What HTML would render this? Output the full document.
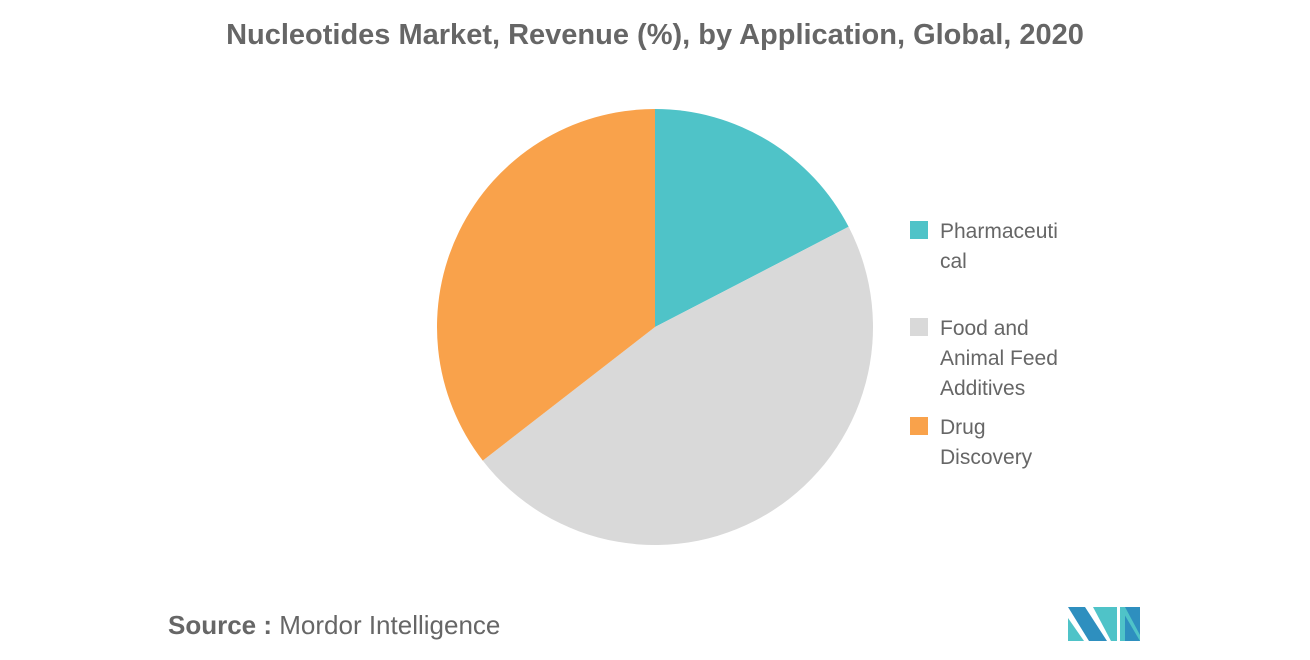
<!DOCTYPE html>
<html><head><meta charset="utf-8"><style>
body{margin:0;background:#fff;width:1310px;height:655px;overflow:hidden;font-family:"Liberation Sans",sans-serif;}
</style></head><body>
<svg width="1310" height="655">
<text x="655" y="44" text-anchor="middle" font-size="29" font-weight="bold" fill="#666">Nucleotides Market, Revenue (%), by Application, Global, 2020</text>
<g id="pie"></g>
<g font-size="21" fill="#666">
<g><rect x="910" y="221" width="18" height="18" fill="#4FC3C8"/><text x="940" y="238">Pharmaceuti</text><text x="940" y="268">cal</text></g>
<g><rect x="910" y="318" width="18" height="18" fill="#D9D9D9"/><text x="940" y="335">Food and</text><text x="940" y="365">Animal Feed</text><text x="940" y="395">Additives</text></g>
<g><rect x="910" y="417" width="18" height="18" fill="#F9A24B"/><text x="940" y="434">Drug</text><text x="940" y="464">Discovery</text></g>
</g>
<text x="168" y="634" font-size="26" fill="#666"><tspan font-weight="bold">Source :</tspan> Mordor Intelligence</text>
<g>
<polygon points="1068,618 1068,641 1084,641" fill="#4FC3C8"/>
<polygon points="1068,607 1085,607 1107,641 1089,641" fill="#2E8FBF"/>
<polygon points="1093,607 1117,607 1117,641 1111,641" fill="#4FC3C8"/>
<rect x="1120" y="607" width="20" height="34" fill="#4FC3C8"/>
<polygon points="1125,607 1140,607 1140,641 1125,641" fill="#2E8FBF"/>
<polygon points="1120,607 1125,607 1140,635 1140,641" fill="#4FC3C8"/>
</g>
</svg>
<script>
const categories=["Pharmaceutical","Food and Animal Feed Additives","Drug Discovery"];
const values=[17.4,47.1,35.5];
const colors=["#4FC3C8","#D9D9D9","#F9A24B"];
const cx=655,cy=327,r=218;
const g=document.getElementById('pie');
const total=values.reduce((a,b)=>a+b,0);
let a0=0;
values.forEach((v,i)=>{
  const a1=a0+v/total*2*Math.PI;
  const x0=cx+r*Math.sin(a0),y0=cy-r*Math.cos(a0),x1=cx+r*Math.sin(a1),y1=cy-r*Math.cos(a1);
  const p=document.createElementNS('http://www.w3.org/2000/svg','path');
  p.setAttribute('d',`M${cx},${cy}L${x0},${y0}A${r},${r} 0 ${a1-a0>Math.PI?1:0} 1 ${x1},${y1}Z`);
  p.setAttribute('fill',colors[i]);
  
  
  g.appendChild(p);
  a0=a1;
});
</script>
</body></html>
